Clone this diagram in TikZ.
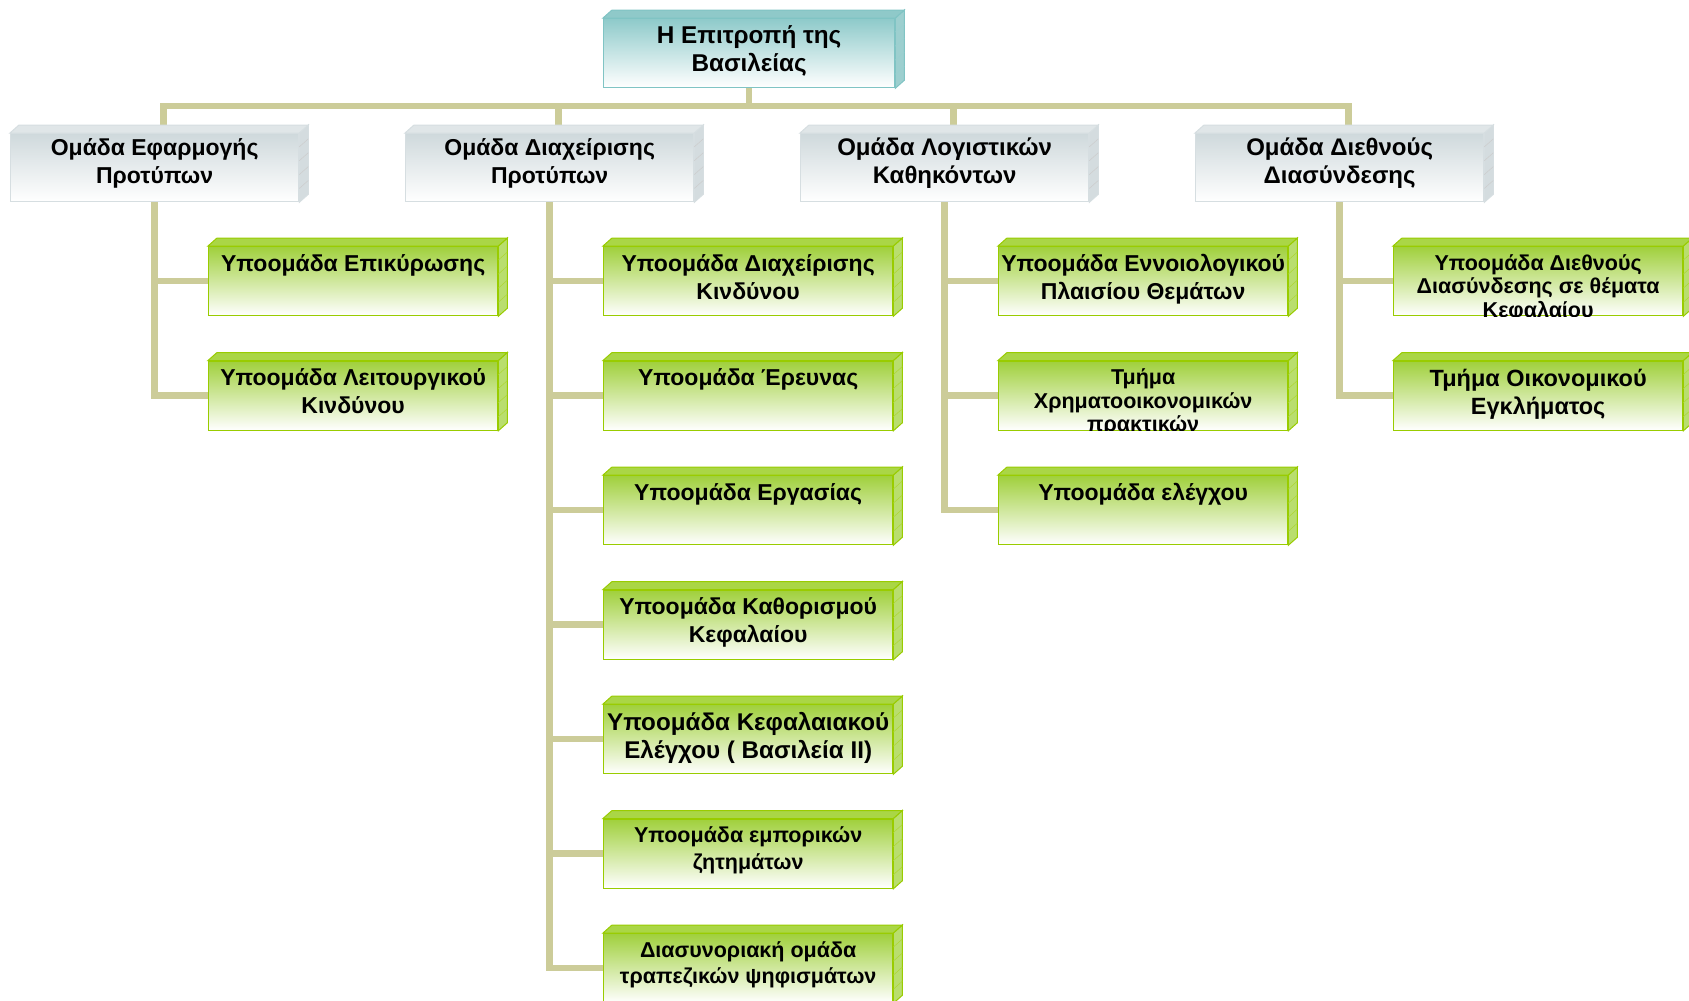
\documentclass[tikz,border=0pt]{standalone}
\usepackage{fontspec}
\setmainfont{Liberation Sans}
\usetikzlibrary{backgrounds,calc}
\definecolor{linec}{RGB}{204,204,153}
\definecolor{grnborder}{RGB}{153,204,0}
\definecolor{grnshade}{RGB}{160,208,60}
\definecolor{grnface}{RGB}{170,214,70}
\definecolor{grnside}{RGB}{185,222,110}
\definecolor{gryborder}{RGB}{214,222,225}
\definecolor{gryshade}{RGB}{207,217,220}
\definecolor{gryface}{RGB}{224,230,232}
\definecolor{gryside}{RGB}{212,220,223}
\definecolor{teaborder}{RGB}{128,196,196}
\definecolor{teashade}{RGB}{142,202,202}
\definecolor{teaface}{RGB}{143,201,201}
\definecolor{teaside}{RGB}{157,207,207}
\tikzset{
  conn/.style={draw=linec, line width=6.5pt},
  grnfront/.style={draw=grnborder, line width=1.3pt, top color=grnshade, bottom color=white, inner sep=0},
  gryfront/.style={draw=gryborder, line width=1.3pt, top color=gryshade, bottom color=white, inner sep=0},
  teafront/.style={draw=teaborder, line width=1.3pt, top color=teashade, bottom color=white, inner sep=0},
  grntop/.style={fill=grnface, draw=grnborder, line width=1pt},
  grytop/.style={fill=gryface, draw=gryborder, line width=1pt},
  teatop/.style={fill=teaface, draw=teaborder, line width=1pt},
  grnside/.style={fill=grnside, draw=grnborder, line width=1pt},
  gryside/.style={fill=gryside, draw=gryborder, line width=1pt},
  teaside/.style={fill=teaside, draw=teaborder, line width=1pt},
  grngrid/.style={draw=grnborder!80, line width=0.5pt},
  grygrid/.style={draw=gray!40, line width=0.5pt},
  teagrid/.style={draw=teaborder!80, line width=0.5pt},
  grntext/.style={anchor=north, yshift=-8pt, align=center, inner sep=0, text=black},
  grytext/.style={anchor=north, yshift=-5pt, align=center, inner sep=0, text=black},
  teatext/.style={anchor=north, yshift=-7pt, align=center, inner sep=0, text=black},
}
\newcommand\setfs[2]{\fontsize{#1}{#2}\selectfont\bfseries}
% #1 name, #2 x, #3 y, #4 w, #5 h, #6 kind, #7 font, #8 text
\newcommand\drawcube[8]{%
  \node[#6front, minimum width=#4pt, minimum height=#5pt, anchor=north west] (#1) at (#2,#3) {};
  \path[#6side] (#1.north east) -- ++(9,-8) -- ([shift={(9,-8)}]#1.south east) -- (#1.south east) -- cycle;
  \foreach \k in {0.2,0.4,0.6,0.8}{\draw[#6grid] ($(#1.north east)!\k!(#1.south east)$) -- ++(9,-8);}
  \path[#6top] (#1.north west) -- ++(9,-8) -- ([shift={(9,-8)}]#1.north east) -- (#1.north east) -- cycle;
  \begin{scope}
    \clip (#1.north west) rectangle (#1.south east);
    \node[#6text, font=#7] (#1t) at (#1.north) {#8};
  \end{scope}
}
\begin{document}
\begin{tikzpicture}[x=1pt, y=-1pt]
\useasboundingbox (0,0) rectangle (1689,1001);
% top
\drawcube{top}{603}{18}{291}{69}{tea}{\setfs{24.3}{28}}{Η Επιτροπή της\\Βασιλείας}
% groups
\drawcube{g1}{10}{133}{288}{68}{gry}{\setfs{23}{28}}{Ομάδα Εφαρμογής\\Προτύπων}
\drawcube{g2}{405}{133}{288}{68}{gry}{\setfs{23}{28}}{Ομάδα Διαχείρισης\\Προτύπων}
\drawcube{g3}{800}{133}{288}{68}{gry}{\setfs{24}{28}}{Ομάδα Λογιστικών\\Καθηκόντων}
\drawcube{g4}{1195}{133}{288}{68}{gry}{\setfs{24}{28}}{Ομάδα Διεθνούς\\Διασύνδεσης}
% column 1
\drawcube{a1}{208}{246}{289}{69}{grn}{\setfs{23}{28}}{Υποομάδα Επικύρωσης}
\drawcube{a2}{208}{360.5}{289}{69}{grn}{\setfs{23}{28}}{Υποομάδα Λειτουργικού\\Κινδύνου}
% column 2
\drawcube{b1}{603}{246}{289}{69}{grn}{\setfs{23}{28}}{Υποομάδα Διαχείρισης\\Κινδύνου}
\drawcube{b2}{603}{360.5}{289}{69}{grn}{\setfs{23}{28}}{Υποομάδα Έρευνας}
\drawcube{b3}{603}{475}{289}{69}{grn}{\setfs{23}{28}}{Υποομάδα Εργασίας}
\drawcube{b4}{603}{589.5}{289}{69}{grn}{\setfs{23}{28}}{Υποομάδα Καθορισμού\\Κεφαλαίου}
\drawcube{b5}{603}{704}{289}{69}{grn}{\setfs{24.2}{28}}{Υποομάδα Κεφαλαιακού\\Ελέγχου ( Βασιλεία ΙΙ)}
\drawcube{b6}{603}{818.5}{289}{69}{grn}{\setfs{21.5}{26.5}}{Υποομάδα εμπορικών\\ζητημάτων}
\drawcube{b7}{603}{933}{289}{69}{grn}{\setfs{21.5}{26}}{Διασυνοριακή ομάδα\\τραπεζικών ψηφισμάτων}
% column 3
\drawcube{c1}{998}{246}{289}{69}{grn}{\setfs{23}{28}}{Υποομάδα Εννοιολογικού\\Πλαισίου Θεμάτων}
\drawcube{c2}{998}{360.5}{289}{69}{grn}{\setfs{21.5}{23.7}}{Τμήμα\\Χρηματοοικονομικών\\πρακτικών}
\drawcube{c3}{998}{475}{289}{69}{grn}{\setfs{23}{28}}{Υποομάδα ελέγχου}
% column 4
\drawcube{e1}{1393}{246}{289}{69}{grn}{\setfs{21.5}{23.7}}{Υποομάδα Διεθνούς\\Διασύνδεσης σε θέματα\\Κεφαλαίου}
\drawcube{e2}{1393}{360.5}{289}{69}{grn}{\setfs{23.5}{28}}{Τμήμα Οικονομικού\\Εγκλήματος}
% connectors
\begin{scope}[on background layer]
  \fill[white] (0,0) rectangle (1689,1001);
  \coordinate (bus) at (0,106);
  \coordinate (d1) at ([xshift=9pt]g1.north);
  \coordinate (d2) at ([xshift=9pt]g2.north);
  \coordinate (d3) at ([xshift=9pt]g3.north);
  \coordinate (d4) at ([xshift=9pt]g4.north);
  \draw[conn] (top.south) -- (top.south |- bus);
  \draw[conn] (d1) -- (d1 |- bus) -- (d4 |- bus) -- (d4);
  \draw[conn] (d2) -- (d2 |- bus);
  \draw[conn] (d3) -- (d3 |- bus);
  % col 1
  \draw[conn] (g1.south) |- (a2.west);
  \draw[conn] (g1.south |- a1.west) -- (a1.west);
  % col 2
  \draw[conn] (g2.south) |- (b7.west);
  \foreach \n in {b1,b2,b3,b4,b5,b6}{\draw[conn] (g2.south |- \n.west) -- (\n.west);}
  % col 3
  \draw[conn] (g3.south) |- (c3.west);
  \foreach \n in {c1,c2}{\draw[conn] (g3.south |- \n.west) -- (\n.west);}
  % col 4
  \draw[conn] (g4.south) |- (e2.west);
  \draw[conn] (g4.south |- e1.west) -- (e1.west);
\end{scope}
\end{tikzpicture}
\end{document}
